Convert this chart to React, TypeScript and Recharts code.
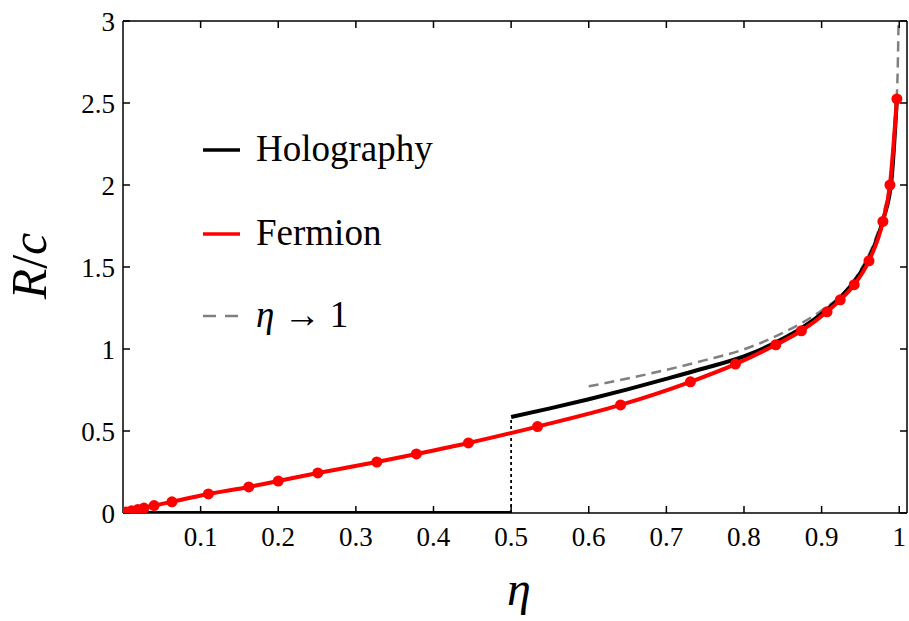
import { LineChart, Line, XAxis, YAxis } from "recharts";

// Fermion samples (red dots)
const fermionEta = [0.004, 0.011, 0.019, 0.027, 0.04, 0.063, 0.11, 0.162, 0.2, 0.251, 0.327, 0.378, 0.445, 0.534, 0.641, 0.731, 0.789, 0.841, 0.874, 0.907, 0.924, 0.942, 0.961, 0.979, 0.988, 0.997];
const fermionR = [0.006, 0.013, 0.021, 0.03, 0.045, 0.068, 0.116, 0.159, 0.195, 0.244, 0.311, 0.36, 0.427, 0.527, 0.659, 0.8, 0.908, 1.026, 1.111, 1.227, 1.3, 1.392, 1.538, 1.778, 2.0, 2.525];

// Holography: zero below eta = 1/2, then a curve
const holoLowEta = [0, 0.5];
const holoLowR = [0, 0];
const holoEta = [0.5, 0.55, 0.6, 0.65, 0.7, 0.75, 0.8, 0.85, 0.875, 0.9, 0.925, 0.95, 0.96, 0.97, 0.98, 0.99, 0.997];
const holoR = [0.585, 0.638, 0.694, 0.754, 0.818, 0.884, 0.955, 1.062, 1.13, 1.215, 1.318, 1.465, 1.545, 1.655, 1.8, 2.03, 2.53];

// eta -> 1 asymptote (dashed grey)
const asymEta = [0.6, 0.65, 0.7, 0.75, 0.8, 0.85, 0.9, 0.93, 0.95, 0.97, 0.98, 0.99, 0.995, 0.998, 0.9993];
const asymR = [0.772, 0.82, 0.873, 0.932, 0.998, 1.098, 1.235, 1.35, 1.48, 1.68, 1.83, 2.1, 2.4, 2.7, 3.05];

// jump at eta = 1/2 (dotted)
const jumpEta = [0.5, 0.5];
const jumpR = [0, 0.585];

const xTicks = [0.1, 0.2, 0.3, 0.4, 0.5, 0.6, 0.7, 0.8, 0.9, 1];
const yTicks = [0, 0.5, 1, 1.5, 2, 2.5, 3];

const zip = (xs: number[], ys: number[]) => xs.map((x, i) => ({ x, y: ys[i] }));

const fermion = zip(fermionEta, fermionR);
const holoLow = zip(holoLowEta, holoLowR);
const holo = zip(holoEta, holoR);
const asym = zip(asymEta, asymR);
const jump = zip(jumpEta, jumpR);

const serif = "Liberation Serif, Times New Roman, Times, DejaVu Serif, Noto Serif, serif";
const tickFont = { fontSize: 27, fill: "#000", fontFamily: serif };
const xDomain: [number, number] = [0, 1.01];
const yDomain: [number, number] = [0, 3];

export default function App() {
  return (
    <div style={{ position: "absolute", left: 0, top: 0, width: 909, height: 621, background: "#fff", fontFamily: serif }}>
      <LineChart width={909} height={621} margin={{ top: 20, right: 1, bottom: 0, left: 0 }} style={{ fontFamily: serif }}>
        <XAxis
          xAxisId="b"
          type="number"
          dataKey="x"
          domain={xDomain}
          allowDataOverflow
          ticks={xTicks}
          tickFormatter={(v) => String(v)}
          height={108}
          tick={tickFont}
          tickSize={-7}
          tickMargin={21}
          stroke="#000"
          strokeWidth={1.5}
          interval={0}
        />
        <XAxis
          xAxisId="t"
          orientation="top"
          type="number"
          dataKey="x"
          domain={xDomain}
          allowDataOverflow
          ticks={xTicks}
          tickFormatter={() => ""}
          height={1}
          tickSize={-7}
          stroke="#000"
          strokeWidth={1.5}
          interval={0}
        />
        <YAxis
          yAxisId="l"
          type="number"
          domain={yDomain}
          allowDataOverflow
          ticks={yTicks}
          tickFormatter={(v) => String(v)}
          width={123}
          tick={tickFont}
          tickSize={-7}
          tickMargin={15}
          stroke="#000"
          strokeWidth={1.5}
          interval={0}
        />
        <YAxis
          yAxisId="r"
          orientation="right"
          type="number"
          domain={yDomain}
          allowDataOverflow
          ticks={yTicks}
          tickFormatter={() => ""}
          width={1}
          tickSize={-7}
          stroke="#000"
          strokeWidth={1.5}
          interval={0}
        />
        <Line xAxisId="b" yAxisId="l" data={asym} dataKey="y" type="monotone" stroke="#808080" strokeWidth={2.5} strokeDasharray="10 6" dot={false} isAnimationActive={false} />
        <Line xAxisId="b" yAxisId="l" data={jump} dataKey="y" type="linear" stroke="#000" strokeWidth={1.8} strokeDasharray="3 3" dot={false} isAnimationActive={false} />
        <Line xAxisId="b" yAxisId="l" data={holoLow} dataKey="y" type="linear" stroke="#000" strokeWidth={4} dot={false} isAnimationActive={false} />
        <Line xAxisId="b" yAxisId="l" data={holo} dataKey="y" type="monotone" stroke="#000" strokeWidth={4} dot={false} isAnimationActive={false} />
        <Line
          xAxisId="b"
          yAxisId="l"
          data={fermion}
          dataKey="y"
          type="monotone"
          stroke="#ff0000"
          strokeWidth={4}
          dot={{ r: 5.5, fill: "#ff0000", stroke: "#ff0000", strokeWidth: 0 }}
          isAnimationActive={false}
        />
      </LineChart>
      <svg width={909} height={621} style={{ position: "absolute", left: 0, top: 0, pointerEvents: "none", fontFamily: serif }}>
        {/* legend */}
        <line x1={203} x2={240} y1={150} y2={150} stroke="#000" strokeWidth={3.5} />
        <text x={256} y={161} style={{ fontFamily: serif, fontSize: 37 }} fill="#000">Holography</text>
        <line x1={203} x2={240} y1={234} y2={234} stroke="#ff0000" strokeWidth={3.5} />
        <text x={256} y={245} style={{ fontFamily: serif, fontSize: 37 }} fill="#000">Fermion</text>
        <line x1={203} x2={240} y1={316} y2={316} stroke="#808080" strokeWidth={2.5} strokeDasharray="13 9" />
        <text x={256} y={327} style={{ fontFamily: serif, fontSize: 37 }} fill="#000">
          <tspan fontStyle="italic">η</tspan>
          <tspan> → 1</tspan>
        </text>
        {/* axis labels */}
        <text x={46} y={266} transform="rotate(-90 46 266)" textAnchor="middle" style={{ fontFamily: serif, fontSize: 50 }} fill="#000">
          <tspan fontStyle="italic">R</tspan>
          <tspan>/</tspan>
          <tspan fontStyle="italic">c</tspan>
        </text>
        <text x={519} y={605} textAnchor="middle" style={{ fontFamily: serif, fontSize: 48, fontStyle: "italic" }} fill="#000">η</text>
      </svg>
    </div>
  );
}
